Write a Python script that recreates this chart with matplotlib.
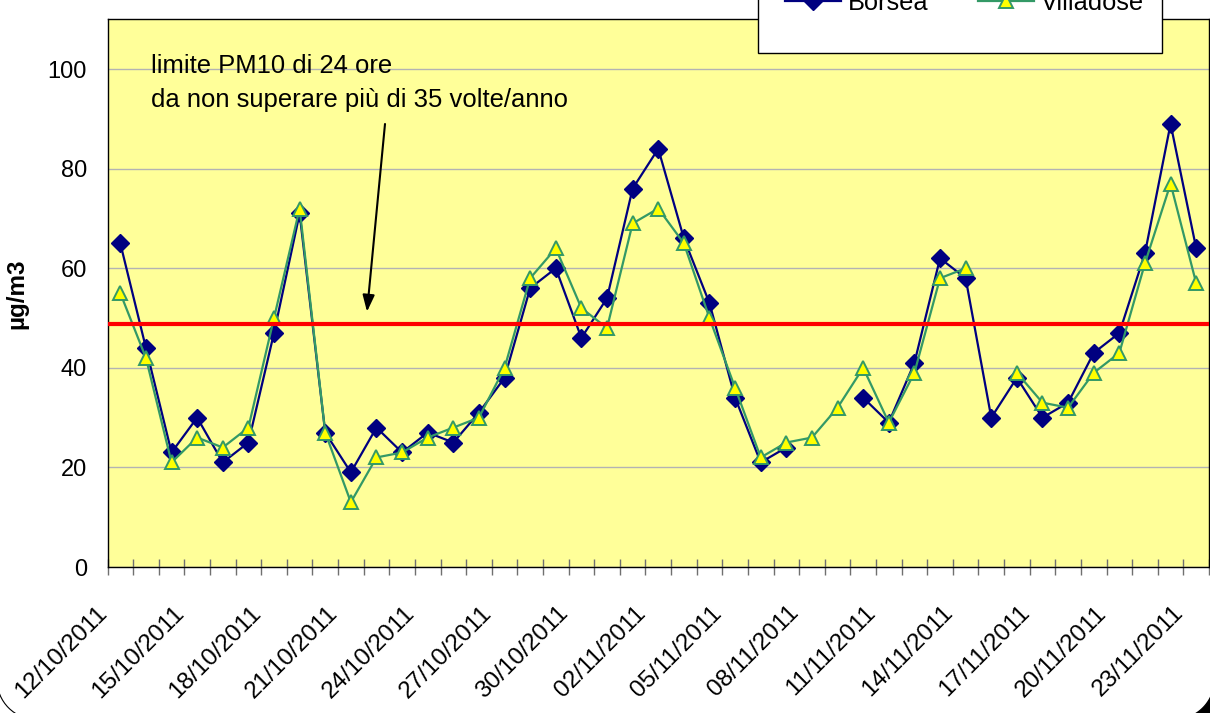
import numpy as np
import matplotlib
matplotlib.use('Agg')
import matplotlib.pyplot as plt
from matplotlib.patches import Rectangle, Arc, Polygon
from matplotlib.transforms import IdentityTransform, ScaledTranslation

plt.rcParams['font.family'] = ['Liberation Sans', 'DejaVu Sans']

nan = np.nan
# PM10 daily values (µg/m3), 12/10/2011 .. 23/11/2011
borsea = [65, 44, 23, 30, 21, 25, 47, 71, 27, 19,
          28, 23, 27, 25, 31, 38, 56, 60, 46, 54,
          76, 84, 66, 53, 34, 21, 24, nan, nan, 34,
          29, 41, 62, 58, 30, 38, 30, 33, 43, 47,
          63, 89, 64]
villadose = [55, 42, 21, 26, 24, 28, 50, 72, 27, 13,
             22, 23, 26, 28, 30, 40, 58, 64, 52, 48,
             69, 72, 65, 50, 36, 22, 25, 26, 32, 40,
             29, 39, 58, 60, nan, 39, 33, 32, 39, 43,
             61, 77, 57]
tick_labels = ['12/10/2011', '15/10/2011', '18/10/2011', '21/10/2011',
               '24/10/2011', '27/10/2011', '30/10/2011', '02/11/2011',
               '05/11/2011', '08/11/2011', '11/11/2011', '14/11/2011',
               '17/11/2011', '20/11/2011', '23/11/2011']
y_ticks = [0, 20, 40, 60, 80, 100]
limit_value = 48.8
series_names = ['Borsea', 'Villadose']
annotation_lines = ["limite PM10 di 24 ore", "da non superare più di 35 volte/anno"]

W, H = 1210, 713
fig = plt.figure(figsize=(W / 100, H / 100), dpi=100)
fig.patch.set_facecolor('white')

L, R, T, B = 107.5, 1209.0, 19.3, 567.0
ax = fig.add_axes([L / W, (H - B) / H, (R - L) / W, (B - T) / H])
ax.set_facecolor('#FFFF99')

n = len(borsea)
x = np.arange(n)
l1, = ax.plot(x, borsea, color='#000080', lw=1.6, marker='D', ms=9,
              mfc='#000080', mec='#000080', zorder=4, label=series_names[0])
l2, = ax.plot(x, villadose, color='#339966', lw=1.6, marker='^', ms=10,
              mfc='#FFFF00', mec='#339966', mew=1.4, zorder=5, label=series_names[1])
ax.axhline(limit_value, color='#FF0000', lw=3, zorder=6)

ax.set_xlim(-0.5, n - 0.5)
ax.set_ylim(0, 110)
ax.set_yticks(y_ticks)
ax.yaxis.grid(True, color='#B3B3B3', lw=1)
ax.set_axisbelow(True)

ax.set_xticks(x[::3], tick_labels, rotation=45, ha='right', va='baseline',
              rotation_mode='anchor', fontsize=17.5)
ax.set_xticks(np.arange(n + 1) - 0.5, minor=True)
ax.tick_params(axis='x', which='major', length=0, pad=33.8)
ax.tick_params(axis='x', which='minor', direction='inout', length=11.5,
               color='#707070', width=1)
ax.tick_params(axis='y', length=0, pad=14.8, labelsize=17)
shift = ScaledTranslation(-12 / 100, 0, fig.dpi_scale_trans)
for lab in ax.get_xticklabels():
    lab.set_transform(lab.get_transform() + shift)
for s in ax.spines.values():
    s.set_color('black')
    s.set_linewidth(1)

fig.text(17 / W, (H - 294) / H, 'µg/m3', rotation=90, fontsize=17.5,
         fontweight='bold', ha='center', va='center')

for line, base in zip(annotation_lines, [73, 107]):
    fig.text(151 / W, (H - base) / H, line, fontsize=18.45, ha='left', va='baseline')
ax.annotate('', xy=(367, H - 311.7), xycoords='figure pixels',
            xytext=(385, H - 124), textcoords='figure pixels',
            arrowprops=dict(arrowstyle='-|>,head_length=0.5,head_width=0.18',
                            color='black', lw=1.5, mutation_scale=20,
                            shrinkA=0, shrinkB=0), zorder=7)

# legend box (partly above the image)
fig.add_artist(Rectangle((757.7, H - 53.3), 404, 120, transform=IdentityTransform(),
                         facecolor='white', edgecolor='black', lw=1, zorder=8))
fig.legend([l1, l2], series_names, loc='center left',
           bbox_to_anchor=(785 / W, (H - 3) / H), ncol=2, frameon=False,
           fontsize=18.3, handlelength=2.2, handletextpad=0.27,
           columnspacing=1.95, borderpad=0, borderaxespad=0).set_zorder(9)

# rounded chart-area border corners
fig.add_artist(Arc((36.9, H - 679.6), 80, 80, theta1=180, theta2=270,
                   transform=IdentityTransform(), color='black', lw=0.8, zorder=10))
th = np.linspace(-np.pi / 2, 0, 30)
cx, cy, r = 1174.6, H - 679.6, 40
pts = np.column_stack([cx + r * np.cos(th), cy + r * np.sin(th)])
pts = np.vstack([pts, [[1216, -2]]])
fig.add_artist(Polygon(pts, closed=True, transform=IdentityTransform(),
                       facecolor='black', edgecolor='black', lw=1, zorder=10))

fig.savefig('out.png', dpi=100)
